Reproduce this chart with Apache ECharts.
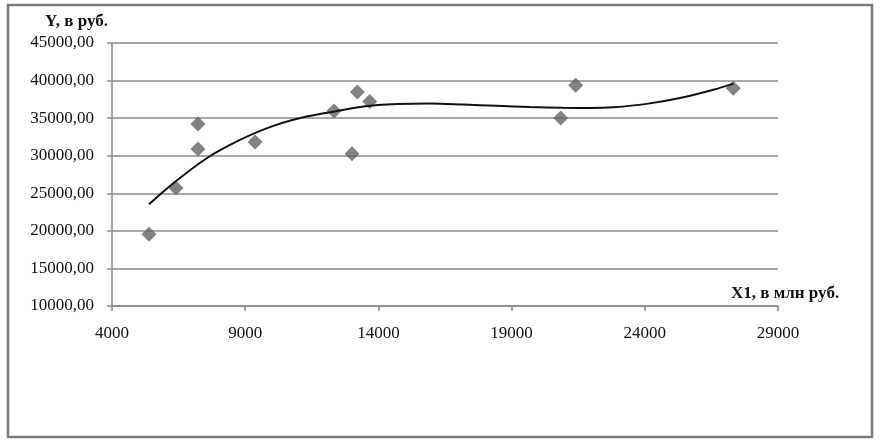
<!DOCTYPE html>
<html>
<head>
<meta charset="utf-8">
<script src="https://cdn.jsdelivr.net/npm/echarts@6/dist/echarts.min.js"></script>
<style>
html,body{margin:0;padding:0;background:#fff;}
#chart{width:882px;height:447px;}
</style>
</head>
<body>
<div id="chart"></div>
<script>
// Observed points: X1 (млн руб.) and Y (руб.)
var xValues = [5389, 6402, 7228, 7228, 9368, 12333, 13009, 13208, 13672, 20843, 21405, 27323];
var yValues = [19560, 25693, 34227, 30893, 31827, 35960, 30267, 38493, 37200, 35027, 39373, 38987];

// Trend curve
var trendX = [5389, 6301, 7555, 8805, 10055, 11309, 12559, 13434, 14688, 15938, 17188, 18441, 19692, 20942, 21944, 22819, 24072, 25323, 26573, 27323];
var trendY = [23530, 26330, 29660, 32100, 33970, 35210, 36010, 36550, 36870, 36950, 36810, 36640, 36470, 36370, 36350, 36450, 36900, 37670, 38770, 39600];

// Axis ticks
var xTicks = [4000, 9000, 14000, 19000, 24000, 29000];
var yTicks = [10000, 15000, 20000, 25000, 30000, 35000, 40000, 45000];

var points = xValues.map(function (x, i) { return [x, yValues[i]]; });
var trend = trendX.map(function (x, i) { return [x, trendY[i]]; });

var chart = echarts.init(document.getElementById('chart'));
var serif = '"Liberation Serif", "DejaVu Serif", serif';
var gridColor = '#8a8a8a';

chart.setOption({
  animation: false,
  backgroundColor: '#fff',
  grid: { left: 112, right: 104, top: 43, bottom: 141 },
  xAxis: {
    type: 'value',
    min: xTicks[0],
    max: xTicks[xTicks.length - 1],
    axisLine: { show: true, lineStyle: { color: gridColor, width: 1.5 } },
    axisTick: { show: true, length: 5, customValues: xTicks, lineStyle: { color: gridColor, width: 1.5 } },
    axisLabel: {
      customValues: xTicks, margin: 19, color: '#111', fontFamily: serif, fontSize: 17,
      formatter: function (v) { return String(v); }
    },
    splitLine: { show: false }
  },
  yAxis: {
    type: 'value',
    min: yTicks[0],
    max: yTicks[yTicks.length - 1],
    interval: 5000,
    axisLine: { show: true, lineStyle: { color: gridColor, width: 1.5 } },
    axisTick: { show: true, length: 5, lineStyle: { color: gridColor, width: 1.5 } },
    axisLabel: {
      margin: 18, color: '#111', fontFamily: serif, fontSize: 17,
      formatter: function (v) { return v.toFixed(2).replace('.', ','); }
    },
    splitLine: { show: true, lineStyle: { color: gridColor, width: 1.5 } }
  },
  graphic: [
    {
      type: 'rect', silent: true,
      shape: { x: 8, y: 5, width: 864, height: 432 },
      style: { fill: 'none', stroke: '#7a7a7a', lineWidth: 2.5 }
    },
    {
      type: 'text', left: 45, top: 13,
      style: { text: 'Y, в руб.', font: 'bold 17px ' + serif, fill: '#111' }
    },
    {
      type: 'text', left: 731, top: 285,
      style: { text: 'X1, в млн руб.', font: 'bold 17px ' + serif, fill: '#111' }
    }
  ],
  series: [
    {
      type: 'scatter',
      data: points,
      symbol: 'diamond',
      symbolSize: 15,
      itemStyle: { color: '#636363' },
      z: 2
    },
    {
      type: 'line',
      data: trend,
      smooth: 0.3,
      showSymbol: false,
      lineStyle: { color: '#111', width: 2 },
      z: 3
    }
  ]
});
</script>
</body>
</html>
